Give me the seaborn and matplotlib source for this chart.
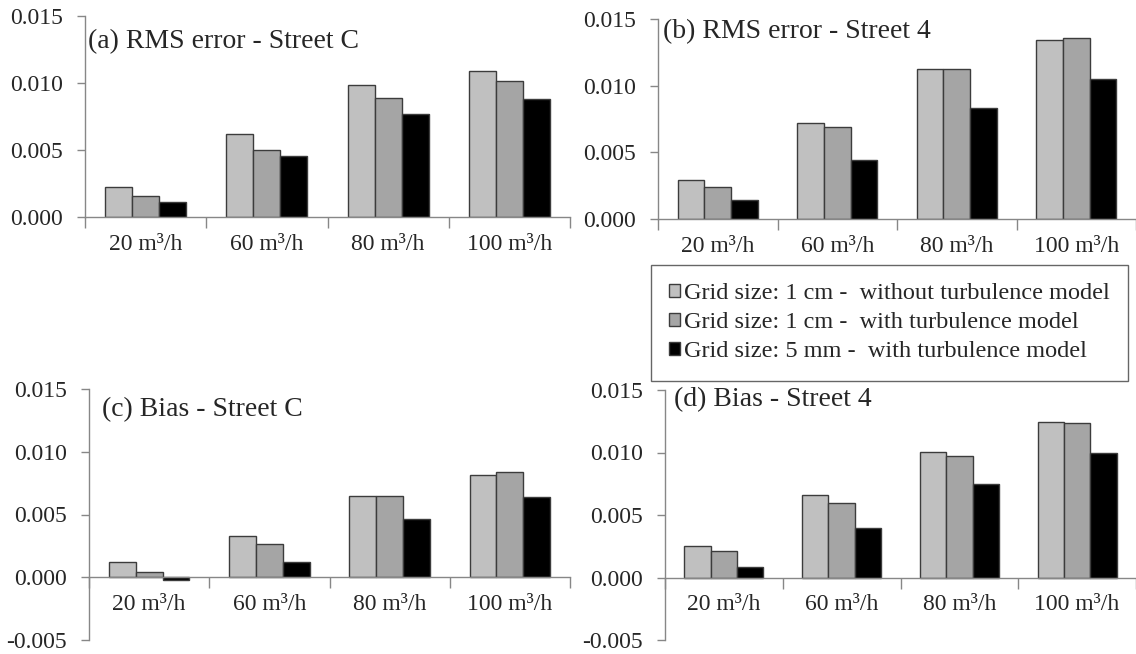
import pandas as pd
import numpy as np
import matplotlib
matplotlib.use('Agg')
import matplotlib.pyplot as plt
import seaborn as sns
from matplotlib.patches import Patch
from matplotlib.ticker import FormatStrFormatter, FixedLocator

# Categories and series
flows = ['20 m³/h', '60 m³/h', '80 m³/h', '100 m³/h']
series = ['Grid size: 1 cm -  without turbulence model',
          'Grid size: 1 cm -  with turbulence model',
          'Grid size: 5 mm -  with turbulence model']
colors = ['#C0C0C0', '#A5A5A5', '#000000']

# (a) RMS error - Street C
rms_c_1cm_noturb = [0.00224, 0.00622, 0.00985, 0.01087]
rms_c_1cm_turb = [0.00154, 0.00500, 0.00886, 0.01015]
rms_c_5mm_turb = [0.00114, 0.00455, 0.00769, 0.00880]

# (b) RMS error - Street 4
rms_4_1cm_noturb = [0.00290, 0.00718, 0.01123, 0.01345]
rms_4_1cm_turb = [0.00238, 0.00688, 0.01123, 0.01360]
rms_4_5mm_turb = [0.00140, 0.00445, 0.00835, 0.01053]

# (c) Bias - Street C
bias_c_1cm_noturb = [0.00118, 0.00332, 0.00645, 0.00813]
bias_c_1cm_turb = [0.00045, 0.00268, 0.00645, 0.00842]
bias_c_5mm_turb = [-0.00024, 0.00118, 0.00466, 0.00637]

# (d) Bias - Street 4
bias_4_1cm_noturb = [0.00249, 0.00662, 0.01005, 0.01243]
bias_4_1cm_turb = [0.00212, 0.00594, 0.00976, 0.01236]
bias_4_5mm_turb = [0.00081, 0.00400, 0.00751, 0.00997]

sns.set_style('white')
plt.rcParams['font.family'] = ['Liberation Serif', 'DejaVu Serif']
plt.rcParams['axes.unicode_minus'] = False

W, H = 1136, 654
fig = plt.figure(figsize=(W / 100, H / 100), dpi=100)

# axes box in pixels (left, right, top, bottom) ; title anchor in pixels
panels = [
    ((rms_c_1cm_noturb, rms_c_1cm_turb, rms_c_5mm_turb), '(a) RMS error - Street C',
     (0, 0.015), (85, 570, 16, 217), (88, 42)),
    ((rms_4_1cm_noturb, rms_4_1cm_turb, rms_4_5mm_turb), '(b) RMS error - Street 4',
     (0, 0.015), (658, 1136, 19, 219), (663, 32)),
    ((bias_c_1cm_noturb, bias_c_1cm_turb, bias_c_5mm_turb), '(c) Bias - Street C',
     (-0.005, 0.015), (89, 570, 389, 640), (102, 410)),
    ((bias_4_1cm_noturb, bias_4_1cm_turb, bias_4_5mm_turb), '(d) Bias - Street 4',
     (-0.005, 0.015), (665, 1136, 390, 640), (674, 400)),
]

axis_gray = '#878787'
edge = '#3c3c3c'

for vals, title, ylim, (l, r, t, b), (tx, ty) in panels:
    ax = fig.add_axes([l / W, 1 - b / H, (r - l) / W, (b - t) / H])
    df = pd.DataFrame({
        'flow': np.tile(flows, 3),
        'series': np.repeat(series, 4),
        'value': np.concatenate(vals),
    })
    sns.barplot(data=df, x='flow', y='value', hue='series', hue_order=series,
                palette=colors, width=0.67, edgecolor=edge, linewidth=1.0,
                legend=False, ax=ax, saturation=1)
    ax.set_xlabel('')
    ax.set_ylabel('')
    ax.set_xlim(-0.5, 3.5)
    ax.set_ylim(*ylim)
    ax.set_yticks(np.arange(ylim[0], 0.0151, 0.005))
    ax.yaxis.set_major_formatter(FormatStrFormatter('%.3f'))
    for s in ['top', 'right']:
        ax.spines[s].set_visible(False)
    for s in ['left', 'bottom']:
        ax.spines[s].set_color(axis_gray)
        ax.spines[s].set_linewidth(1.0)
    ax.spines['bottom'].set_position(('data', 0))
    ax.xaxis.set_minor_locator(FixedLocator([-0.5, 0.5, 1.5, 2.5, 3.5]))
    ax.tick_params(axis='x', which='major', length=0, pad=12, labelsize=17)
    ax.tick_params(axis='x', which='minor', length=8, width=1.0,
                   color=axis_gray, direction='out', bottom=True)
    ax.tick_params(axis='y', length=6, width=1.0, color=axis_gray,
                   direction='out', left=True, pad=10, labelsize=17)
    fig.text(tx / W, 1 - ty / H, title, fontsize=20, ha='left', va='center')

handles = [Patch(facecolor=c, edgecolor=edge, linewidth=1.0) for c in colors]
leg = fig.legend(handles, series, loc='upper left',
                 bbox_to_anchor=(651 / W, 1 - 265 / H), fontsize=17.5,
                 frameon=True, fancybox=False, edgecolor='#404040',
                 handlelength=0.45, handleheight=0.45, handletextpad=0.15,
                 labelspacing=0.33, borderpad=0.75, borderaxespad=0)
leg.get_frame().set_linewidth(1.0)

fig.savefig('out.png', dpi=100)
